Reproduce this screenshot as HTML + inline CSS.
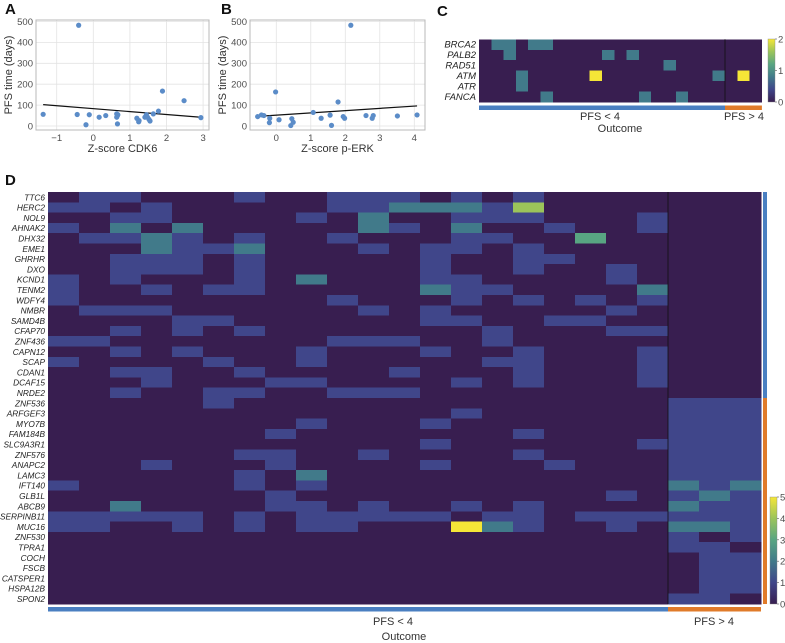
<!DOCTYPE html>
<html><head><meta charset="utf-8"><style>
body{margin:0;background:#fff;}
svg{display:block;font-family:"Liberation Sans",sans-serif;}
.tk{font-size:9.5px;fill:#4d4d4d;}
.gl{font-size:9.5px;fill:#222;font-style:italic;}
.gd{font-size:8.3px;fill:#222;font-style:italic;}
.ttl{font-size:11px;fill:#333;}
.pl{font-size:15px;font-weight:bold;fill:#111;}
</style></head><body>
<svg id="fig" width="785" height="643" viewBox="0 0 785 643" xmlns="http://www.w3.org/2000/svg"></svg>
<script>
// Panel A data
const aX=[-1.37,-0.40,-0.44,-0.20,-0.11,0.16,0.34,0.64,0.64,0.66,0.67,0.66,1.19,1.24,1.25,1.41,1.45,1.48,1.52,1.55,1.64,1.78,1.89,2.48,2.94];
const aY=[56,482,55,6,54,42,50,58,42,10,54,50,37,20,26,42,54,42,32,24,58,71,167,121,40];
const aFit=[83,-14]; // intercept, slope
const aXTicks=[-1,0,1,2,3];
// Panel B data
const bX=[-0.54,-0.43,-0.36,-0.20,-0.19,-0.02,0.08,0.42,0.45,0.49,1.07,1.30,1.56,1.60,1.79,1.94,1.98,2.16,2.60,2.78,2.81,3.51,4.08];
const bY=[45,53,50,16,37,163,30,2,35,18,65,37,52,3,115,45,37,482,50,37,50,48,53];
const bFit=[52,10.8];
const bXTicks=[0,1,2,3,4];
const yTicks=[0,100,200,300,400,500];
// Panel C data
const cGenes=["BRCA2","PALB2","RAD51","ATM","ATR","FANCA"];
const cVals=[
[0,1,1,0,1,1,0,0,0,0,0,0,0,0,0,0,0,0,0,0,0,0,0],
[0,0,1,0,0,0,0,0,0,0,1,0,1,0,0,0,0,0,0,0,0,0,0],
[0,0,0,0,0,0,0,0,0,0,0,0,0,0,0,1,0,0,0,0,0,0,0],
[0,0,0,1,0,0,0,0,0,2,0,0,0,0,0,0,0,0,0,1,0,2,0],
[0,0,0,1,0,0,0,0,0,0,0,0,0,0,0,0,0,0,0,0,0,0,0],
[0,0,0,0,0,1,0,0,0,0,0,0,0,1,0,0,1,0,0,0,0,0,0]];
const cTicks=[0,1,2];
// Panel D data
const dGenes=["TTC6","HERC2","NOL9","AHNAK2","DHX32","EME1","GHRHR","DXO","KCND1","TENM2","WDFY4","NMBR","SAMD4B","CFAP70","ZNF436","CAPN12","SCAP","CDAN1","DCAF15","NRDE2","ZNF536","ARFGEF3","MYO7B","FAM184B","SLC9A3R1","ZNF576","ANAPC2","LAMC3","IFT140","GLB1L","ABCB9","SERPINB11","MUC16","ZNF530","TPRA1","COCH","FSCB","CATSPER1","HSPA12B","SPON2"];
const dVals=[
[0,1,1,0,0,0,1,0,0,1,1,1,0,1,0,1,0,0,0,0,0,0,0],
[1,1,0,1,0,0,0,0,0,1,1,2,2,2,1,4,0,0,0,0,0,0,0],
[0,0,1,1,0,0,0,0,1,0,2,0,0,1,1,1,0,0,0,1,0,0,0],
[1,0,2,0,2,0,0,0,0,0,2,1,0,2,0,0,1,0,0,1,0,0,0],
[0,1,1,2,1,0,1,0,0,1,0,0,0,1,1,0,0,3,0,0,0,0,0],
[0,0,0,2,1,1,2,0,0,0,1,0,1,1,0,1,0,0,0,0,0,0,0],
[0,0,1,1,1,0,1,0,0,0,0,0,1,0,0,1,1,0,0,0,0,0,0],
[0,0,1,1,1,0,1,0,0,0,0,0,1,0,0,1,0,0,1,0,0,0,0],
[1,0,1,0,0,0,1,0,2,0,0,0,1,1,0,0,0,0,1,0,0,0,0],
[1,0,0,1,0,1,1,0,0,0,0,0,2,1,1,0,0,0,0,2,0,0,0],
[1,0,0,0,0,0,0,0,0,1,0,0,0,1,0,1,0,1,0,1,0,0,0],
[0,1,1,1,0,0,0,0,0,0,1,0,1,0,0,0,0,0,1,0,0,0,0],
[0,0,0,0,1,1,0,0,0,0,0,0,1,1,0,0,1,1,0,0,0,0,0],
[0,0,1,0,1,0,1,0,0,0,0,0,0,0,1,0,0,0,1,1,0,0,0],
[1,1,0,0,0,0,0,0,0,1,1,1,0,0,1,0,0,0,0,0,0,0,0],
[0,0,1,0,1,0,0,0,1,0,0,0,1,0,0,1,0,0,0,1,0,0,0],
[1,0,0,0,0,1,0,0,1,0,0,0,0,0,1,1,0,0,0,1,0,0,0],
[0,0,1,1,0,0,1,0,0,0,0,1,0,0,0,1,0,0,0,1,0,0,0],
[0,0,0,1,0,0,0,1,1,0,0,0,0,1,0,1,0,0,0,1,0,0,0],
[0,0,1,0,0,1,1,0,0,1,1,1,0,0,0,0,0,0,0,0,0,0,0],
[0,0,0,0,0,1,0,0,0,0,0,0,0,0,0,0,0,0,0,0,1,1,1],
[0,0,0,0,0,0,0,0,0,0,0,0,0,1,0,0,0,0,0,0,1,1,1],
[0,0,0,0,0,0,0,0,1,0,0,0,1,0,0,0,0,0,0,0,1,1,1],
[0,0,0,0,0,0,0,1,0,0,0,0,0,0,0,1,0,0,0,0,1,1,1],
[0,0,0,0,0,0,0,0,0,0,0,0,1,0,0,0,0,0,0,1,1,1,1],
[0,0,0,0,0,0,1,1,0,0,1,0,0,0,0,1,0,0,0,0,1,1,1],
[0,0,0,1,0,0,0,1,0,0,0,0,1,0,0,0,1,0,0,0,1,1,1],
[0,0,0,0,0,0,1,0,2,0,0,0,0,0,0,0,0,0,0,0,1,1,1],
[1,0,0,0,0,0,1,0,1,0,0,0,0,0,0,0,0,0,0,0,2,1,2],
[0,0,0,0,0,0,0,1,0,0,0,0,0,0,0,0,0,0,1,0,1,2,1],
[0,0,2,0,0,0,0,1,1,0,1,0,0,1,0,1,0,0,0,0,2,1,1],
[1,1,1,1,1,0,1,0,1,1,1,1,1,0,1,1,0,1,1,1,1,1,1],
[1,1,0,0,1,0,1,0,1,1,0,0,0,5,2,1,0,0,1,0,2,2,1],
[0,0,0,0,0,0,0,0,0,0,0,0,0,0,0,0,0,0,0,0,1,0,1],
[0,0,0,0,0,0,0,0,0,0,0,0,0,0,0,0,0,0,0,0,1,1,0],
[0,0,0,0,0,0,0,0,0,0,0,0,0,0,0,0,0,0,0,0,0,1,1],
[0,0,0,0,0,0,0,0,0,0,0,0,0,0,0,0,0,0,0,0,0,1,1],
[0,0,0,0,0,0,0,0,0,0,0,0,0,0,0,0,0,0,0,0,0,1,1],
[0,0,0,0,0,0,0,0,0,0,0,0,0,0,0,0,0,0,0,0,0,1,1],
[0,0,0,0,0,0,0,0,0,0,0,0,0,0,0,0,0,0,0,0,1,1,0]];
const dTicks=[0,1,2,3,4,5];
const nLow=20; // samples with PFS < 4
const dLowGenes=20;

const NS="http://www.w3.org/2000/svg";
const svg=document.getElementById('fig');
function mk(tag,attrs,parent){const e=document.createElementNS(NS,tag);for(const k in attrs)e.setAttribute(k,attrs[k]);(parent||svg).appendChild(e);return e;}
function txt(s,attrs,parent){const e=mk('text',attrs,parent);e.textContent=s;return e;}
const stops=[[56,30,80],[64,70,138],[65,122,138],[88,165,130],[155,196,90],[245,230,55]];
function col(t){
  t=Math.max(0,Math.min(5,t));const i=Math.min(4,Math.floor(t)),f=t-i;const a=stops[i],b=stops[i+1];
  return 'rgb('+a.map((v,k)=>Math.round(v+(b[k]-v)*f)).join(',')+')';}

function scatter(name,px,X,Y,fit,xt,xmin,xmax,xlabel){
  const g=mk('g',{});
  
  const x0=px[0],x1=px[1],top=20,bot=130;
  const sx=v=>px[2]+v*px[3]; const sy=v=>126-v*0.209;
  mk('rect',{x:x0,y:top,width:x1-x0,height:bot-top,fill:'#fff'},g);
  yTicks.forEach(t=>{const l=mk('line',{x1:x0,x2:x1,y1:sy(t),y2:sy(t),stroke:'#e3e3e3','stroke-width':0.8},g);
    
    const tl=txt(t,{x:x0-3,y:sy(t)+3.3,'text-anchor':'end',class:'tk'},g);
    });
  xt.forEach(t=>{const l=mk('line',{x1:sx(t),x2:sx(t),y1:top,y2:bot,stroke:'#e3e3e3','stroke-width':0.8},g);
    
    const tl=txt(t<0?'\u2212'+(-t):t,{x:sx(t),y:bot+11,'text-anchor':'middle',class:'tk','font-size':'10'},g);
    });
  const b=mk('rect',{x:x0,y:top,width:x1-x0,height:bot-top,fill:'none',stroke:'#b8b8b8','stroke-width':1},g);
  
  const ln=mk('line',{x1:sx(xmin),y1:sy(fit[0]+fit[1]*xmin),x2:sx(xmax),y2:sy(fit[0]+fit[1]*xmax),stroke:'#111','stroke-width':1.2},g);
  
  X.forEach((v,i)=>{const c=mk('circle',{cx:sx(v),cy:sy(Y[i]),r:2.6,fill:'#5b8cc8'},g);
    });
  const xtl=txt(xlabel,{x:(x0+x1)/2,y:152,'text-anchor':'middle',class:'ttl','font-size':'12'},g);
  
  const cx=x0-24;
  const ytl=txt('PFS time (days)',{x:cx,y:75,'text-anchor':'middle',class:'ttl','font-size':'10',transform:'rotate(-90 '+cx+' 75)'},g);
  
}
scatter('panel-a-scatter',[36,209,93.3,36.6],aX,aY,aFit,aXTicks,-1.37,2.94,'Z-score CDK6');
scatter('panel-b-scatter',[250,425,276.3,34.5],bX,bY,bFit,bXTicks,-0.54,4.08,'Z-score p-ERK');

[['A',5,14],['B',221,14],['C',437,16],['D',5,185]].forEach(p=>{const t=txt(p[0],{x:p[1],y:p[2],class:'pl'});
  });

function heat(name,G,V,L,T,cw,rh,maxv,cls,lx){
  const g=mk('g',{});
  
  const n=V[0].length;
  V.forEach((row,r)=>{
    row.forEach((v,c)=>{const e=mk('rect',{x:L+c*cw,y:T+r*rh,width:cw+0.3,height:rh+0.3,fill:col(v/maxv*5*(maxv===2?0.8:1)),'shape-rendering':'crispEdges'},g);
      if(maxv===2&&v===2)e.setAttribute('fill',col(5));
      });
    const t=txt(G[r],{x:lx,y:T+r*rh+rh/2+3.1,'text-anchor':'end',class:cls},g);
    
  });
  const dv=mk('line',{x1:L+nLow*cw,x2:L+nLow*cw,y1:T,y2:T+V.length*rh,stroke:'#111','stroke-width':0.8},g);
  
  return {W:n*cw,H:V.length*rh};
}
const cL=479,cT=39.3,cW=12.3,cH=10.45;
const c=heat('panel-c-heatmap',cGenes,cVals,cL,cT,cW,cH,2,'gl',476);
function outcomeBar(L,y,W,cw,h,pre){
  const b1=mk('rect',{x:L,y:y,width:nLow*cw,height:h,fill:'#4a7fc1'});
  
  const b2=mk('rect',{x:L+nLow*cw,y:y,width:W-nLow*cw,height:h,fill:'#e07b2a'});
  
}
outcomeBar(cL,cT+c.H+3.5,c.W,cW,4.5,'c-');
let t;
t=txt('PFS < 4',{x:600,y:120,'text-anchor':'middle',class:'ttl','font-size':'10.5'});
t=txt('PFS > 4',{x:744,y:120,'text-anchor':'middle',class:'ttl','font-size':'10.5'});
t=txt('Outcome',{x:620,y:132,'text-anchor':'middle',class:'ttl','font-size':'12'});

function colorbar(name,x,y0,y1,ticks,max){
  const g=mk('g',{});
  
  const gid=name+'-grad';const defs=mk('defs',{},g);const lg=mk('linearGradient',{id:gid,x1:0,y1:1,x2:0,y2:0},defs);
  for(let i=0;i<=10;i++)mk('stop',{offset:(i/10),'stop-color':col(i/2)},lg);
  mk('rect',{x:x,y:y0,width:7,height:y1-y0,fill:'url(#'+gid+')',stroke:'#888','stroke-width':0.4},g);
  ticks.forEach(v=>{const yy=y1-(y1-y0)*v/max;
    mk('line',{x1:x+7,x2:x+9,y1:yy,y2:yy,stroke:'#555','stroke-width':0.6},g);
    const tl=txt(v,{x:x+10,y:yy+3.5,class:'tk'},g);});
}
colorbar('panel-c-colorbar',768,39,102,cTicks,2);

const dL=48,dT=192,dW=31,dH=10.3;
const d=heat('panel-d-heatmap',dGenes,dVals,dL,dT,dW,dH,5,'gd',45);
outcomeBar(dL,dT+d.H+3,d.W,dW,4.5,'d-');
const s1=mk('rect',{x:763,y:dT,width:4,height:dLowGenes*dH,fill:'#4a7fc1'});

const s2=mk('rect',{x:763,y:dT+dLowGenes*dH,width:4,height:(dGenes.length-dLowGenes)*dH,fill:'#e07b2a'});

t=txt('PFS < 4',{x:393,y:625,'text-anchor':'middle',class:'ttl','font-size':'12'});
t=txt('PFS > 4',{x:714,y:625,'text-anchor':'middle',class:'ttl','font-size':'12'});
t=txt('Outcome',{x:404,y:640,'text-anchor':'middle',class:'ttl','font-size':'13'});
colorbar('panel-d-colorbar',770,497,604,dTicks,5);
</script>
</body></html>
